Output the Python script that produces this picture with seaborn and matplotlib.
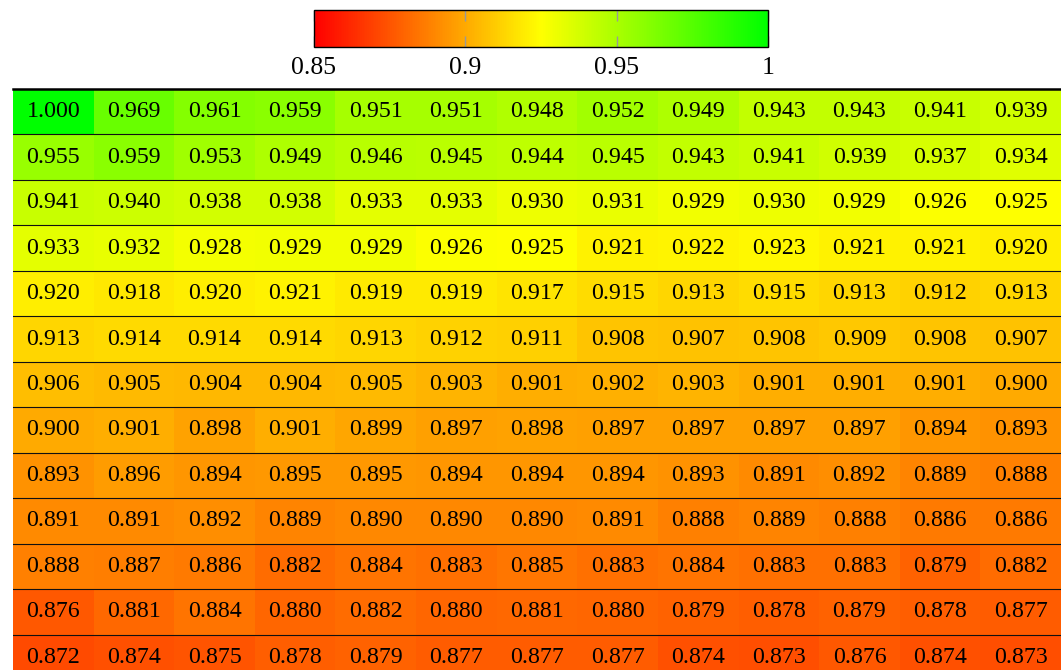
import numpy as np
import matplotlib
matplotlib.use("Agg")
import matplotlib.pyplot as plt
from matplotlib.colors import LinearSegmentedColormap
from matplotlib.ticker import FixedLocator, FixedFormatter
import seaborn as sns

# Similarity matrix, one list per row (top to bottom)
row01 = [1.000, 0.969, 0.961, 0.959, 0.951, 0.951, 0.948, 0.952, 0.949, 0.943, 0.943, 0.941, 0.939]
row02 = [0.955, 0.959, 0.953, 0.949, 0.946, 0.945, 0.944, 0.945, 0.943, 0.941, 0.939, 0.937, 0.934]
row03 = [0.941, 0.940, 0.938, 0.938, 0.933, 0.933, 0.930, 0.931, 0.929, 0.930, 0.929, 0.926, 0.925]
row04 = [0.933, 0.932, 0.928, 0.929, 0.929, 0.926, 0.925, 0.921, 0.922, 0.923, 0.921, 0.921, 0.920]
row05 = [0.920, 0.918, 0.920, 0.921, 0.919, 0.919, 0.917, 0.915, 0.913, 0.915, 0.913, 0.912, 0.913]
row06 = [0.913, 0.914, 0.914, 0.914, 0.913, 0.912, 0.911, 0.908, 0.907, 0.908, 0.909, 0.908, 0.907]
row07 = [0.906, 0.905, 0.904, 0.904, 0.905, 0.903, 0.901, 0.902, 0.903, 0.901, 0.901, 0.901, 0.900]
row08 = [0.900, 0.901, 0.898, 0.901, 0.899, 0.897, 0.898, 0.897, 0.897, 0.897, 0.897, 0.894, 0.893]
row09 = [0.893, 0.896, 0.894, 0.895, 0.895, 0.894, 0.894, 0.894, 0.893, 0.891, 0.892, 0.889, 0.888]
row10 = [0.891, 0.891, 0.892, 0.889, 0.890, 0.890, 0.890, 0.891, 0.888, 0.889, 0.888, 0.886, 0.886]
row11 = [0.888, 0.887, 0.886, 0.882, 0.884, 0.883, 0.885, 0.883, 0.884, 0.883, 0.883, 0.879, 0.882]
row12 = [0.876, 0.881, 0.884, 0.880, 0.882, 0.880, 0.881, 0.880, 0.879, 0.878, 0.879, 0.878, 0.877]
row13 = [0.872, 0.874, 0.875, 0.878, 0.879, 0.877, 0.877, 0.877, 0.874, 0.873, 0.876, 0.874, 0.873]

cbar_ticks = [0.85, 0.90, 0.95, 1.00]
cbar_labels = ["0.85", "0.9", "0.95", "1"]

matrix = np.array([row01, row02, row03, row04, row05, row06, row07,
                   row08, row09, row10, row11, row12, row13])

plt.rcParams["font.family"] = ["Liberation Serif", "DejaVu Serif"]

W, H = 1061, 670
fig = plt.figure(figsize=(W / 100, H / 100), dpi=100)

def px_axes(x0, y0, x1, y1):
    return fig.add_axes([x0 / W, 1 - y1 / H, (x1 - x0) / W, (y1 - y0) / H])

ax = px_axes(13, 89, 1061, 680)
cax = px_axes(314, 10, 768, 47)

cmap = LinearSegmentedColormap.from_list("red_yellow_green", ["#ff0000", "#ffff00", "#00ff00"])

sns.heatmap(matrix, ax=ax, cmap=cmap, vmin=0.85, vmax=1.0,
            annot=True, fmt=".3f", annot_kws={"size": 17.2, "color": "black"},
            cbar=True, cbar_ax=cax, cbar_kws={"orientation": "horizontal"},
            xticklabels=False, yticklabels=False)

ax.tick_params(left=False, bottom=False)

# Row separators and top border
n_rows = matrix.shape[0]
for r in range(1, n_rows):
    ax.axhline(r, color="#111111", lw=0.8)
ax.axhline(0, color="black", lw=1.8, clip_on=False)

# Colorbar styling
cbar = ax.collections[0].colorbar
cbar.outline.set_edgecolor("black")
cbar.outline.set_linewidth(1.0)
cax.xaxis.set_major_locator(FixedLocator(cbar_ticks))
cax.xaxis.set_major_formatter(FixedFormatter(cbar_labels))
cax.tick_params(axis="x", direction="in", top=True, bottom=True, length=8,
                width=1, color="#999999", labelsize=18.5, pad=7,
                labelbottom=True, labeltop=False)
cax.xaxis.set_minor_locator(FixedLocator([]))

fig.savefig("out.png", dpi=100)
